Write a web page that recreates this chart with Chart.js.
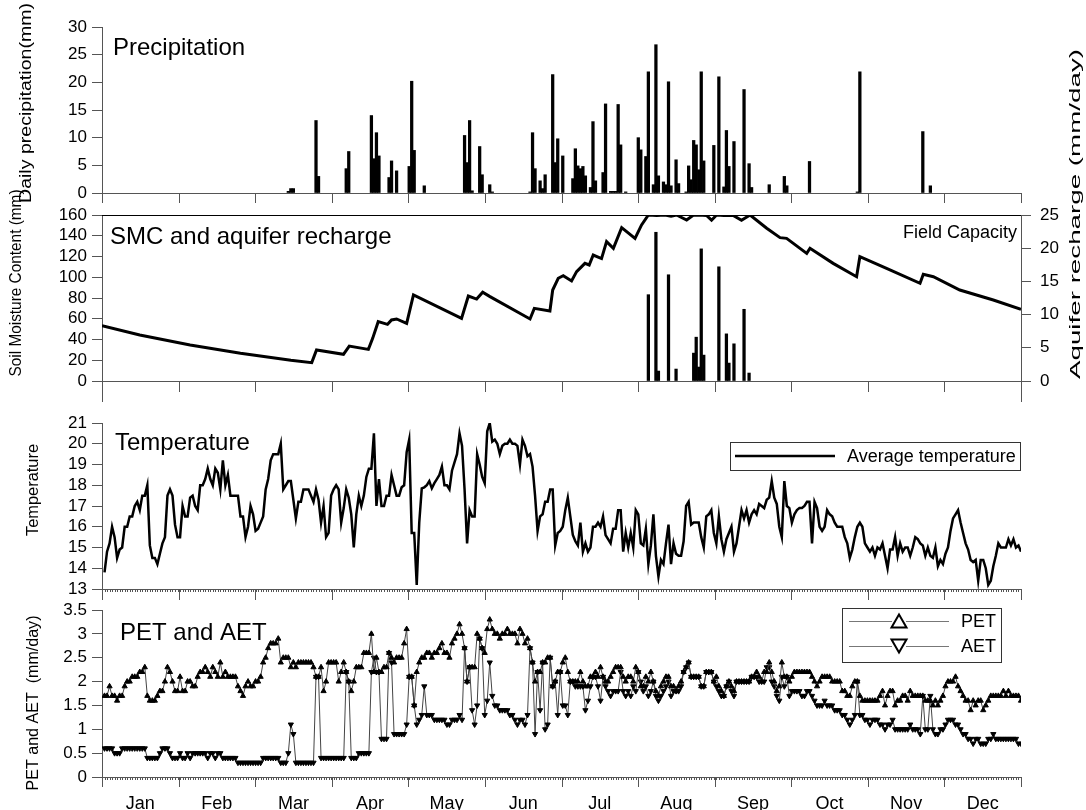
<!DOCTYPE html>
<html>
<head>
<meta charset="UTF-8">
<title>Daily water balance</title>
<script src="https://cdn.jsdelivr.net/npm/chart.js"></script>
<style>
  body { margin: 0; background: #fff; }
  #wrap { position: relative; width: 1086px; height: 810px; }
  #wrap canvas { position: absolute; left: 0; top: 0; }
</style>
</head>
<body>
<div id="wrap">
  <canvas id="precipChart" width="1086" height="810"></canvas>
  <canvas id="smcChart" width="1086" height="810"></canvas>
  <canvas id="tempChart" width="1086" height="810"></canvas>
  <canvas id="etChart" width="1086" height="810"></canvas>
</div>

<script>
var months = ['Jan', 'Feb', 'Mar', 'Apr', 'May', 'Jun', 'Jul', 'Aug', 'Sep', 'Oct', 'Nov', 'Dec'];

// daily precipitation (day of year, mm)
var precipDay = [74,75,76,85,86,97,98,107,108,109,110,114,115,117,122,123,124,128,144,145,146,147,150,151,154,155,
  170,171,172,174,175,176,179,180,181,183,187,188,189,190,191,192,194,195,196,199,200,202,203,204,205,206,208,
  213,214,216,217,219,220,221,223,224,225,226,228,229,232,233,234,235,236,237,238,239,243,245,247,248,249,251,
  255,257,258,265,271,272,281,300,301,326,329];
var precipMm = [0.3,0.8,0.8,13.1,3.0,4.4,7.5,14.0,6.2,10.9,6.7,2.8,5.8,4.0,4.8,20.2,7.7,1.3,10.4,5.5,13.1,0.4,8.4,3.3,1.5,0.2,
  0.2,10.9,4.4,2.2,0.8,3.3,21.4,5.5,9.8,6.7,2.6,8.0,4.9,4.4,4.8,3.1,1.0,12.9,2.2,3.7,16.1,0.3,0.3,0.3,16.0,8.7,0.2,
  10.0,7.8,6.6,21.9,1.5,26.8,3.1,2.0,1.5,20.1,1.3,6.0,1.7,0.2,4.9,2.4,9.5,8.7,4.2,21.9,5.8,8.6,21.0,1.1,11.3,4.8,9.3,
  18.7,5.3,1.0,1.5,3.0,1.3,5.7,0.2,21.9,11.1,1.3];

// soil moisture content (day, mm)
var smcDay = [0,15,35,55,75,83.3,85.2,95.9,98.2,105.8,107.5,109.7,113.4,115,117,121,123.7,142.8,145.5,148.8,151.2,154.1,
  170,171.7,177.9,179,181.2,183.2,186.5,188.5,191.8,193.5,195.1,198.4,200.4,203.1,206.4,211.7,214.3,217,220.3,223.6,226,
  228.2,232.2,234.8,237,240.1,242.1,244.1,247,250.7,254,257.4,264,269.3,271.9,279.9,281.2,290.4,299.7,301,311.6,324.9,
  326.2,330.2,340.7,354,365];
var smcMm = [53.3,44.3,34.7,26.7,19.9,17.7,29.9,25.7,33.7,30.5,41.1,57.2,54.6,58.8,59.8,55.6,82.9,60.4,81.9,79.0,85.5,81.3,
  59.8,70,67.5,87.7,99,101.5,96.4,105.4,113.4,111.8,121.4,118,134.3,127.9,147.8,137.5,150.4,160,159.5,160,158.8,
  160,155.2,159.8,160,159.6,155,160,159.5,159.6,155,160,147.2,138.2,137.5,123,127.9,113.4,100.5,119.8,108.6,94.2,
  102.8,100.5,87.7,78.1,69.1];
var fieldCapacity = 160;

// aquifer recharge (day, mm/day)
var rechargeDay = [217,220,221,225,228,235,236,237,238,239,245,248,249,251,255,257];
var rechargeMm = [13.0,22.4,1.5,16.0,1.8,4.2,6.6,2.1,19.9,3.9,17.2,7.1,2.7,5.6,10.8,1.2];

// daily average temperature, day 1..365
var tempVal = [13.8,14.8,15.2,16.0,15.5,14.5,14.9,15.0,16.0,16.0,16.5,16.5,17.0,17.2,16.8,17.5,17.5,18.0,15.1,14.5,
  14.5,14.2,14.7,15.2,15.5,17.5,17.8,17.5,16.1,15.5,15.5,17.0,16.5,16.5,17.4,17.5,17.0,16.8,18.0,18.0,
  18.3,18.8,18.3,18.0,18.8,18.6,17.8,19.2,18.0,18.5,17.5,17.5,17.5,17.5,16.5,16.5,15.5,16.0,17.0,16.6,
  15.8,15.9,16.2,16.5,17.8,18.3,19.2,19.5,19.5,19.5,20.0,17.8,18.0,18.2,18.2,17.3,16.4,17.2,17.2,17.8,
  17.8,17.8,17.5,17.2,17.8,17.3,16.2,17.0,15.5,15.7,17.5,17.8,18.0,17.8,16.2,16.9,17.8,17.4,16.6,15.0,
  16.6,17.5,17.0,17.5,18.4,18.8,18.8,20.5,17.0,18.3,17.0,17.0,17.5,17.5,18.5,18.0,17.5,17.5,17.9,18.0,
  19.6,20.2,15.7,15.7,13.2,16.2,
  17.85,17.9,18.0,18.2,17.85,18.1,18.3,18.5,18.9,18.0,18.0,17.8,18.7,19.1,19.5,20.5,19.9,17.8,15.2,16.8,
  16.5,16.5,19.5,19.0,18.4,18.1,20.6,21.0,20.1,20.2,20.0,19.5,19.9,20.0,20.0,20.2,20.0,20.0,19.9,19.0,
  20.2,19.9,19.4,19.5,18.9,17.5,15.8,16.5,16.6,17.2,17.2,17.8,17.8,15.1,15.7,15.8,16.0,16.8,17.4,16.5,
  15.6,15.3,15.1,16.2,14.8,15.2,14.8,15.0,16.0,16.0,16.2,16.0,16.5,15.6,15.4,15.2,15.9,15.9,16.8,16.8,
  14.8,15.7,15.0,15.7,15.0,16.8,16.6,15.2,15.1,15.9,14.2,15.1,16.6,14.6,13.6,14.4,14.2,15.2,16.1,14.2,
  15.2,14.7,14.6,14.6,15.3,17.0,17.2,16.1,16.2,16.2,16.2,15.5,15.0,16.5,16.6,16.8,15.7,15.2,16.5,15.4,
  14.8,15.4,15.7,16.0,14.8,15.2,16.0,16.8,16.4,16.8,
  16.2,16.6,16.8,16.6,17.1,17.0,16.9,17.3,17.4,18.2,17.4,17.1,16.0,15.5,18.2,17.0,16.9,16.2,16.6,16.8,
  16.9,16.9,17.0,17.2,17.2,15.2,17.2,16.9,16.0,15.8,16.0,16.8,16.6,16.5,16.2,16.0,16.0,16.0,15.5,15.2,
  14.5,14.9,15.5,16.0,16.2,16.0,15.2,15.0,14.8,15.0,14.6,15.0,14.9,15.2,14.6,14.0,14.9,14.9,15.5,14.6,
  15.2,14.8,15.0,15.0,14.6,15.0,15.5,15.4,15.2,15.1,14.6,15.0,14.6,14.5,15.0,14.1,14.4,14.2,14.7,15.0,
  15.8,16.4,16.6,16.8,16.2,15.7,15.2,14.9,14.4,14.3,14.4,13.4,14.4,14.4,14.0,13.2,13.4,14.1,14.6,15.2,
  15.0,15.0,15.0,15.4,15.1,15.4,15.0,15.1,14.8];

// potential and actual evapotranspiration, day 1..365 (mm/day)
var petVal = [1.7,1.7,1.9,1.7,1.7,1.6,1.7,1.7,1.9,2.0, 2.0,2.1,2.1,2.1,2.2,2.2,2.3,1.7,1.6,1.6,
  1.6,1.7,1.8,1.8,2.0,2.3,2.2,2.0,1.8,1.8, 2.1,1.8,1.8,2.0,2.0,1.9,1.9,2.1,2.2,2.2,
  2.3,2.2,2.1,2.3,2.2,2.1,2.4,2.1,2.2,2.1, 2.1,2.1,2.1,1.9,1.8,1.7,1.9,2.0,1.9,1.9,
  2.0,2.0,2.1,2.4,2.5,2.7,2.8,2.8,2.8,2.9, 2.4,2.5,2.5,2.5,2.3,2.4,2.3,2.4,2.4,2.4,
  2.4,2.4,2.4,2.3,2.1,2.1,2.3,1.8,2.0,2.4, 2.4,2.4,2.4,2.0,2.2,2.4,2.2,2.0,1.8,2.0,
  2.3,2.3,2.3,2.6,2.6,2.6,3.0,2.2,2.5,2.2, 2.2,2.3,2.3,2.6,2.5,2.4,2.5,2.5,2.5,2.8,
  3.1,2.1,2.1,1.5,2.2,2.4,2.5,2.5,2.6,2.6, 2.5,2.6,2.6,2.7,2.8,2.6,2.6,2.5,2.8,2.9,
  3.0,3.2,3.0,2.7,2.0,2.3,2.3,2.3,3.0,2.9, 2.7,2.6,3.1,3.3,3.1,3.0,3.0,2.9,3.0,3.0,
  3.1,3.0,3.0,3.0,2.8,3.1,3.0,2.8,2.9,2.7, 2.4,2.0,2.2,2.2,2.4,2.4,2.5,2.5,1.9,2.0,
  2.2,2.2,2.4,2.5,2.2,2.0,2.0,2.0,2.0,2.2, 2.0,1.9,1.9,2.1,2.1,2.2,2.1,2.3,2.1,2.0,
  2.0,2.1,2.2,2.3,2.3,2.3,2.1,2.0,2.1,2.1, 2.0,2.3,2.2,1.9,1.9,2.1,2.0,2.2,2.0,1.8,
  1.7,1.9,2.0,2.1,2.1,1.9,1.9,1.8,1.9,2.0, 2.2,2.3,2.4,2.1,2.1,2.1,2.1,1.9,1.9,2.2,
  2.2,2.2,2.0,2.1,1.9,1.8,1.7,1.9,2.0,1.9, 1.8,2.0,2.0,2.0,2.0,2.0,2.0,2.1,2.1,2.2,
  2.1,2.0,2.2,2.2,2.4,2.2,2.0,1.8,1.9,2.4, 2.1,2.1,2.0,2.1,2.2,2.2,2.2,2.2,2.2,2.2,
  2.2,2.1,2.0,1.9,2.0,2.1,2.1,2.1,2.1,2.0, 2.0,2.0,2.0,1.8,1.8,1.7,1.7,1.9,2.0,2.0,
  1.7,1.6,1.6,1.6,1.6,1.6,1.6,1.6,1.7,1.8, 1.5,1.7,1.8,1.8,1.5,1.6,1.6,1.7,1.7,1.6,
  1.8,1.7,1.7,1.7,1.7,1.7,1.6,1.6,1.6,1.5, 1.6,1.5,1.6,1.7,1.9,2.0,2.0,2.0,2.1,1.9,
  1.8,1.7,1.6,1.6,1.4,1.6,1.5,1.6,1.6,1.4, 1.5,1.6,1.7,1.7,1.7,1.7,1.7,1.8,1.7,1.8,
  1.7,1.7,1.7,1.7,1.6];
var aetVal = [0.6,0.6,0.6,0.6,0.5,0.5,0.5,0.6,0.6,0.6, 0.6,0.6,0.6,0.6,0.6,0.6,0.6,0.4,0.4,0.4,
  0.4,0.4,0.5,0.6,0.6,0.6,0.5,0.4,0.4,0.4, 0.5,0.4,0.4,0.5,0.4,0.5,0.5,0.5,0.5,0.5,
  0.5,0.4,0.5,0.5,0.4,0.5,0.5,0.4,0.4,0.4, 0.4,0.4,0.4,0.3,0.3,0.3,0.3,0.3,0.3,0.3,
  0.3,0.3,0.3,0.4,0.4,0.4,0.4,0.4,0.4,0.4, 0.3,0.3,0.3,0.5,1.1,0.9,0.3,0.3,0.3,0.3,
  0.3,0.3,0.3,0.3,2.1,2.1,0.4,0.4,0.4,0.4, 0.4,0.4,0.4,0.4,0.4,0.4,2.2,2.0,0.4,0.4,
  0.4,0.5,0.5,0.5,0.5,0.5,2.2,2.5,2.2,2.2, 0.8,0.8,0.8,2.6,2.4,0.9,0.9,0.9,0.9,0.9,
  1.1,2.1,2.1,1.5,1.1,1.2,1.3,1.9,1.3,1.3, 1.3,1.2,1.2,1.2,1.2,1.2,1.1,1.1,1.2,1.2,
  1.2,1.3,1.2,2.7,2.0,2.3,1.4,1.1,1.5,2.9, 2.7,1.3,1.6,2.4,1.7,1.5,1.5,1.4,1.4,1.4,
  1.4,1.3,1.3,1.2,1.1,1.2,1.2,1.1,1.3,2.7, 2.4,0.9,2.2,1.4,2.4,1.0,1.1,2.5,1.9,2.0,
  1.3,2.2,1.5,1.5,1.3,2.0,2.0,1.9,1.9,1.9, 1.9,1.4,1.6,1.9,2.1,2.1,1.9,1.6,2.1,1.9,
  1.8,1.7,1.8,1.8,1.8,2.2,1.8,1.7,1.8,1.7, 1.9,1.8,2.2,2.0,1.8,1.9,1.7,1.8,2.0,1.7,
  1.6,1.7,1.8,1.9,2.0,1.7,1.8,1.8,1.8,1.9, 2.2,2.3,2.4,2.1,2.1,2.1,2.1,1.9,1.9,2.2,
  2.2,2.2,2.0,1.9,1.8,1.7,1.7,1.9,2.0,1.8, 1.7,2.0,2.0,2.0,2.0,2.0,2.0,2.1,2.1,2.1,
  2.0,2.0,2.0,2.3,2.3,2.0,1.9,1.7,1.6,2.1, 1.9,2.1,1.7,1.8,1.8,1.8,1.8,1.7,1.7,1.8,
  1.8,1.7,1.6,1.5,1.5,1.5,1.6,1.5,1.5,1.5, 1.4,1.4,1.4,1.3,1.3,1.2,1.1,1.2,1.3,2.0,
  1.3,1.3,1.2,1.2,1.1,1.2,1.2,1.2,1.1,1.1, 1.0,1.1,1.1,1.2,1.0,1.0,1.0,1.0,1.0,1.0,
  1.1,1.0,1.0,1.0,0.9,1.7,1.0,1.0,1.7,1.0, 0.9,0.9,1.0,1.0,1.1,1.2,1.2,1.2,1.1,1.1,
  1.0,0.9,0.9,0.8,0.8,0.7,0.8,0.8,0.7,0.7, 0.7,0.8,0.8,0.9,0.8,0.8,0.8,0.8,0.8,0.8,
  0.8,0.8,0.8,0.7,0.7];

var AXIS = '#555';
var FONT = '"Liberation Sans", Arial, sans-serif';
Chart.defaults.font.family = FONT;
Chart.defaults.font.size = 17;
Chart.defaults.color = '#000';
Chart.defaults.animation = false;
Chart.defaults.plugins.legend.display = false;
Chart.defaults.plugins.tooltip.enabled = false;

function pairs(xs, ys) { return xs.map(function(x, i) { return {x: x, y: ys[i]}; }); }
function daily(vals) { return vals.map(function(v, i) { return {x: i + 1, y: v}; }); }

function xAxis(height, extra) {
  return Object.assign({
    type: 'linear', min: 0, max: 365, offset: false,
    grid: { display: false },
    border: { display: true, color: AXIS },
    ticks: { display: false },
    afterFit: function(s) { s.height = height; }
  }, extra || {});
}
function yAxis(min, max, step, pos, width, pad) {
  return {
    type: 'linear', position: pos, min: min, max: max,
    ticks: {
      stepSize: step, padding: pad || 5, autoSkip: false, color: '#000', font: { size: 17 },
      callback: function(v) { return String(v); }
    },
    grid: { drawOnChartArea: false, tickLength: 10, color: AXIS },
    border: { color: AXIS },
    afterFit: function(s) { s.width = width; }
  };
}

// month boundary tick marks (and daily minor ticks) under a panel
function monthTicks(chart, major, minor, edge) {
  var ctx = chart.ctx, xs = chart.scales.x, y = chart.chartArea.bottom;
  ctx.save();
  ctx.strokeStyle = AXIS; ctx.lineWidth = 1;
  ctx.beginPath();
  for (var k = 0; k <= 12; k++) {
    var px = Math.round(xs.getPixelForValue(k * 365 / 12)) + 0.5;
    var len = (edge && (k === 0 || k === 12)) ? edge : major;
    ctx.moveTo(px, y); ctx.lineTo(px, y + len);
  }
  if (minor) {
    for (var d = 1; d < 365; d++) {
      var p = Math.round(xs.getPixelForValue(d)) + 0.5;
      ctx.moveTo(p, y); ctx.lineTo(p, y + minor);
    }
  }
  ctx.stroke();
  ctx.restore();
}
function text(ctx, s, x, y, size, align, base) {
  ctx.save();
  ctx.font = size + 'px ' + FONT;
  ctx.fillStyle = '#000';
  ctx.textAlign = align || 'left';
  ctx.textBaseline = base || 'alphabetic';
  ctx.fillText(s, x, y);
  ctx.restore();
}
// rotated axis title, stretched to the given length
function vText(ctx, s, cx, cy, len, size, dir) {
  ctx.save();
  ctx.font = size + 'px ' + FONT;
  var w = ctx.measureText(s).width;
  ctx.translate(cx, cy);
  ctx.rotate(dir * Math.PI / 2);
  ctx.scale(len / w, 1);
  ctx.fillStyle = '#000';
  ctx.textAlign = 'center'; ctx.textBaseline = 'middle';
  ctx.fillText(s, 0, 0);
  ctx.restore();
}
function triangle(ctx, cx, cy, w, h, down) {
  ctx.beginPath();
  if (down) { ctx.moveTo(cx - w / 2, cy - h / 2); ctx.lineTo(cx + w / 2, cy - h / 2); ctx.lineTo(cx, cy + h / 2); }
  else { ctx.moveTo(cx - w / 2, cy + h / 2); ctx.lineTo(cx + w / 2, cy + h / 2); ctx.lineTo(cx, cy - h / 2); }
  ctx.closePath();
  ctx.stroke();
}

// ---- precipitation ----
new Chart(document.getElementById('precipChart'), {
  type: 'bar',
  data: {
    datasets: [{
      label: 'Daily precipitation',
      data: pairs(precipDay, precipMm),
      backgroundColor: '#000',
      barThickness: 2.6
    }]
  },
  options: {
    responsive: false,
    layout: { padding: { top: 27, bottom: 607, left: 0, right: 65 } },
    scales: {
      x: xAxis(10),
      y: yAxis(0, 30, 5, 'left', 102)
    }
  },
  plugins: [{
    id: 'precipDeco',
    afterDraw: function(chart) {
      var ctx = chart.ctx;
      monthTicks(chart, 10, 0, 0);
      text(ctx, 'Precipitation', 113, 55, 24);
      vText(ctx, 'Daily precipitation(mm)', 27, 103, 200, 16, -1);
    }
  }]
});

// ---- soil moisture content and recharge ----
new Chart(document.getElementById('smcChart'), {
  type: 'bar',
  data: {
    datasets: [{
      type: 'line',
      label: 'SMC',
      data: pairs(smcDay, smcMm),
      borderColor: '#000',
      borderWidth: 3,
      pointRadius: 0,
      yAxisID: 'y'
    }, {
      type: 'line',
      label: 'Field Capacity',
      data: [{x: 0, y: fieldCapacity}, {x: 365, y: fieldCapacity}],
      borderColor: '#000',
      borderWidth: 2,
      pointRadius: 0,
      yAxisID: 'y'
    }, {
      label: 'Aquifer recharge',
      data: pairs(rechargeDay, rechargeMm),
      backgroundColor: '#000',
      barThickness: 2.6,
      yAxisID: 'y1'
    }]
  },
  options: {
    responsive: false,
    layout: { padding: { top: 215, bottom: 419, left: 0, right: 0 } },
    scales: {
      x: xAxis(10),
      y: yAxis(0, 160, 20, 'left', 102),
      y1: yAxis(0, 25, 5, 'right', 65, 9)
    }
  },
  plugins: [{
    id: 'smcDeco',
    afterDraw: function(chart) {
      var ctx = chart.ctx;
      monthTicks(chart, 11, 0, 21);
      text(ctx, 'SMC and aquifer recharge', 110, 244, 24);
      text(ctx, 'Field Capacity', 1017, 233, 18, 'right', 'middle');
      vText(ctx, 'Soil Moisture Content (mm)', 17, 283, 187, 16, -1);
      vText(ctx, 'Aquifer recharge (mm/day)', 1076, 214, 330, 15, -1);
    }
  }]
});

// ---- temperature ----
new Chart(document.getElementById('tempChart'), {
  type: 'line',
  data: {
    datasets: [{
      label: 'Average temperature',
      data: daily(tempVal),
      borderColor: '#000',
      borderWidth: 2.5,
      pointRadius: 0
    }]
  },
  options: {
    responsive: false,
    layout: { padding: { top: 423, bottom: 211, left: 0, right: 65 } },
    scales: {
      x: xAxis(10),
      y: yAxis(13, 21, 1, 'left', 102)
    }
  },
  plugins: [{
    id: 'tempDeco',
    afterDraw: function(chart) {
      var ctx = chart.ctx;
      monthTicks(chart, 11, 3, 0);
      text(ctx, 'Temperature', 115, 450, 24);
      vText(ctx, 'Temperature', 34, 490, 92, 16, -1);
      ctx.save();
      ctx.strokeStyle = '#333'; ctx.lineWidth = 1;
      ctx.strokeRect(730.5, 442.5, 290, 28);
      ctx.strokeStyle = '#000'; ctx.lineWidth = 2.5;
      ctx.beginPath(); ctx.moveTo(735, 456); ctx.lineTo(835, 456); ctx.stroke();
      ctx.restore();
      text(ctx, 'Average temperature', 847, 457, 18, 'left', 'middle');
    }
  }]
});

// ---- PET and AET ----
new Chart(document.getElementById('etChart'), {
  type: 'line',
  data: {
    datasets: [{
      label: 'PET',
      data: daily(petVal),
      borderColor: '#444',
      borderWidth: 1,
      pointStyle: 'triangle',
      pointRadius: 3,
      pointBackgroundColor: '#000',
      pointBorderColor: '#000',
      pointBorderWidth: 1
    }, {
      label: 'AET',
      data: daily(aetVal),
      borderColor: '#444',
      borderWidth: 1,
      pointStyle: 'triangle',
      pointRotation: 180,
      pointRadius: 3,
      pointBackgroundColor: '#000',
      pointBorderColor: '#000',
      pointBorderWidth: 1
    }]
  },
  options: {
    responsive: false,
    layout: { padding: { top: 610, bottom: 0, left: 0, right: 65 } },
    scales: {
      x: xAxis(33, {
        ticks: {
          display: true, autoSkip: false, maxRotation: 0, padding: 8,
          color: '#000', font: { size: 18 },
          callback: function(v, i) { return months[i]; }
        },
        afterBuildTicks: function(s) {
          s.ticks = months.map(function(m, i) { return {value: (i + 0.5) * 365 / 12}; });
        }
      }),
      y: yAxis(0, 3.5, 0.5, 'left', 102)
    }
  },
  plugins: [{
    id: 'etDeco',
    afterDraw: function(chart) {
      var ctx = chart.ctx;
      monthTicks(chart, 10, 3, 0);
      text(ctx, 'PET and AET', 120, 640, 24);
      vText(ctx, 'PET and AET  (mm/day)', 34, 703, 175, 16, -1);
      ctx.save();
      ctx.strokeStyle = '#333'; ctx.lineWidth = 1;
      ctx.strokeRect(842.5, 608.5, 159, 54);
      ctx.strokeStyle = '#777';
      ctx.beginPath();
      ctx.moveTo(849, 621.5); ctx.lineTo(949, 621.5);
      ctx.moveTo(849, 646.5); ctx.lineTo(949, 646.5);
      ctx.stroke();
      ctx.fillStyle = '#fff'; ctx.strokeStyle = '#000'; ctx.lineWidth = 2;
      ctx.fillRect(892, 614, 14, 14); ctx.fillRect(892, 639, 14, 14);
      triangle(ctx, 899, 621, 15, 13, false);
      triangle(ctx, 899, 646, 15, 13, true);
      ctx.restore();
      text(ctx, 'PET', 961, 622, 18, 'left', 'middle');
      text(ctx, 'AET', 961, 647, 18, 'left', 'middle');
    }
  }]
});
</script>
</body>
</html>
